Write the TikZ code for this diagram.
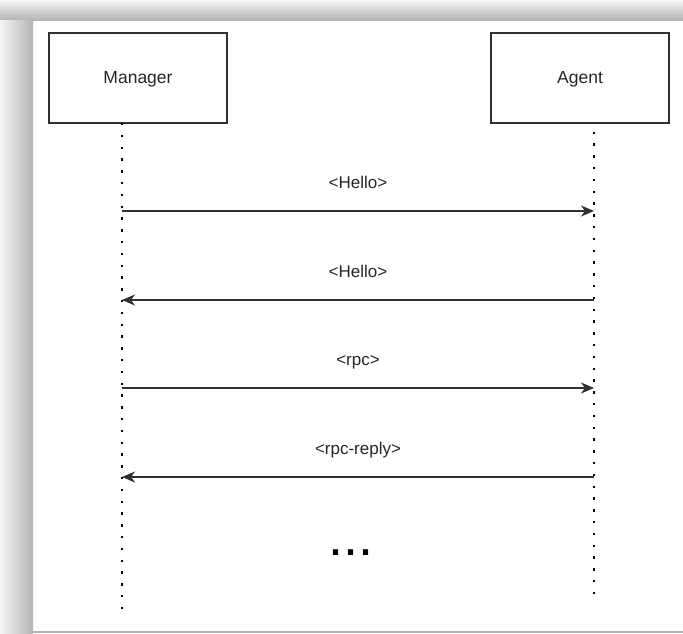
\documentclass[tikz,border=0pt]{standalone}
\usepackage{fontspec}
\setmainfont{Liberation Sans}
\usetikzlibrary{arrows.meta}
\definecolor{edge}{HTML}{303030}
\definecolor{shadowgrey}{HTML}{B4B4B4}
\definecolor{shadowmid}{HTML}{E8E8E8}
\begin{document}
\begin{tikzpicture}[x=1pt,y=-1pt,
  actor/.style={draw=edge, line width=1.4pt, minimum width=178pt, minimum height=90pt,
    inner sep=0pt, text height=11pt, text depth=0pt,
    font=\fontsize{17.5}{21}\selectfont, text=black!85},
  lifeline/.style={line width=2.4pt, dash pattern=on 2.4pt off 9.4pt, black},
  msg/.style={draw=edge, line width=1.5pt, -{Stealth[length=13pt,width=11pt,inset=4pt]}},
  msglabel/.style={anchor=base, font=\fontsize{17}{20}\selectfont, text=black!85}]

% page with its drop shadow
\useasboundingbox (0,0) rectangle (683,633);
\fill[white] (0,0) rectangle (683,633);
\shade[top color=white!96!black, middle color=shadowmid, bottom color=shadowgrey] (0,0) rectangle (683,20);
\shade[left color=white!96!black, middle color=shadowmid, right color=shadowgrey] (0,20) rectangle (33,633);
\fill[shadowgrey] (33,631) rectangle (683,633);

% participants
\node[actor] (mgr) at (138,78) {Manager};
\node[actor] (agt) at (580,78) {Agent};

% lifeline end points
\coordinate (mtop) at (122,123);
\coordinate (mbot) at (122,609);
\coordinate (atop) at (594,131.5);
\coordinate (abot) at (594,594);
\draw[lifeline] (mtop) -- (mbot);
\draw[lifeline] (atop) -- (abot);

% message anchors on the lifelines
\coordinate (m1) at (122,211);  \coordinate (a1) at (594,211);
\coordinate (m2) at (122,300);  \coordinate (a2) at (594,300);
\coordinate (m3) at (122,388);  \coordinate (a3) at (594,388);
\coordinate (m4) at (122,477);  \coordinate (a4) at (594,477);

\draw[msg] (m1) -- (a1);
\draw[msg] (a2) -- (m2);
\draw[msg] (m3) -- (a3);
\draw[msg] (a4) -- (m4);

\node[msglabel] (l1) at (358,188) {<Hello>};
\node[msglabel] (l2) at (358,277) {<Hello>};
\node[msglabel] (l3) at (358,365) {<rpc>};
\node[msglabel] (l4) at (358,454) {<rpc-reply>};

% continuation mark
\node[anchor=base, font=\fontsize{54}{60}\selectfont, text=black, inner sep=0pt] (more) at (351,555) {...};
\end{tikzpicture}
\end{document}
